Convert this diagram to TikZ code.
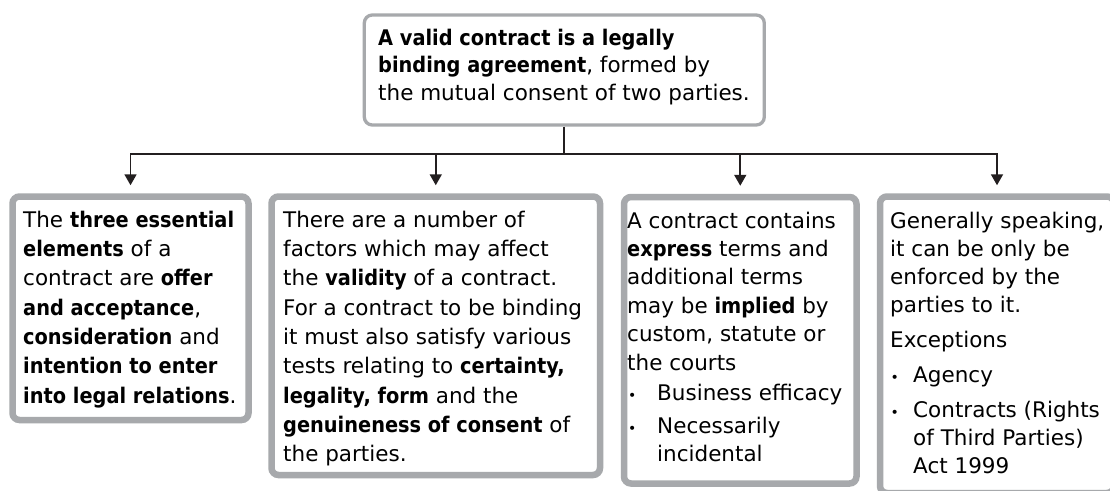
\documentclass[tikz,border=0pt]{standalone}
\usepackage{fontspec}
\setmainfont{DejaVu Sans}[BoldFeatures={FakeStretch=0.9}]
\usetikzlibrary{arrows.meta}
\definecolor{bordergray}{RGB}{167,169,172}
\definecolor{linedark}{RGB}{35,31,32}
\newcommand{\bulA}{\makebox[30pt][l]{\hspace{1pt}{\fontsize{14}{14}\selectfont •}}}
\newcommand{\bulB}{\makebox[23pt][l]{\hspace{0.5pt}{\fontsize{14}{14}\selectfont •}}}
\begin{document}
\begin{tikzpicture}[x=1pt,y=-1pt,
  box/.style={draw=bordergray, line width=6.5pt, rounded corners=7pt, fill=white, inner sep=0pt},
  topbox/.style={draw=bordergray, line width=3.3pt, rounded corners=8pt, fill=white, inner sep=0pt},
  txt/.style={anchor=base west, align=left, inner sep=0pt, text=black},
  bigfont/.style={font=\fontsize{21.5}{29.3}\selectfont},
  conn/.style={draw=linedark, line width=1.8pt},
  arr/.style={conn, -{Triangle[width=12pt,length=11pt]}, shorten >=8pt}]
\fill[white] (0,0) rectangle (1110,490);
\useasboundingbox (0,0) rectangle (1110,490);
% boxes
\node[topbox, minimum width=400pt, minimum height=110pt] (top) at (564.3,70) {};
\node[box, minimum width=236pt, minimum height=223.5pt] (b1) at (130.5,308.25) {};
\node[box, minimum width=328.5pt, minimum height=278.5pt] (b2) at (435.75,335.75) {};
\node[box, minimum width=232.5pt, minimum height=286.5pt] (b3) at (740.25,340.25) {};
\node[box, minimum width=234pt, minimum height=296.5pt] (b4) at (997,344.75) {};
% texts (anchored at the baseline of their last line)
\node[txt, font=\fontsize{21.5}{27.5}\selectfont] (ttop) at (378,100)
 {\textbf{A valid contract is a legally}\\
  \textbf{binding agreement}, formed by\\
  the mutual consent of two parties.};
\node[txt, bigfont] (t1) at (23,403.1)
 {The \textbf{three essential}\\
  \textbf{elements} of a\\
  contract are \textbf{offer}\\
  \textbf{and acceptance},\\
  \textbf{consideration} and\\
  \textbf{intention to enter}\\
  \textbf{into legal relations}.};
\node[txt, bigfont] (t2) at (283,461.7)
 {There are a number of\\
  factors which may affect\\
  the \textbf{validity} of a contract.\\
  For a contract to be binding\\
  it must also satisfy various\\
  tests relating to \textbf{certainty,}\\
  \textbf{legality, form} and the\\
  \textbf{genuineness of consent} of\\
  the parties.};
\node[txt, font=\fontsize{21.5}{28.4}\selectfont] (t3) at (627,461.4)
 {A contract contains\\
  \textbf{express} terms and\\
  additional terms\\
  may be \textbf{implied} by\\
  custom, statute or\\
  the courts\\[1.6pt]
  \bulA Business efficacy\\[4.6pt]
  \bulA Necessarily\\
  \hspace*{30pt}incidental};
\node[txt, font=\fontsize{21.5}{28.3}\selectfont] (t4) at (890,473.6)
 {Generally speaking,\\
  it can be only be\\
  enforced by the\\
  parties to it.\\[5.8pt]
  Exceptions\\[6.7pt]
  \bulB Agency\\[6.7pt]
  \bulB Contracts (Rights\\
  \hspace*{23pt}of Third Parties)\\
  \hspace*{23pt}Act 1999};
% connectors
\coordinate (busM) at (564.3,154);
\draw[conn] (top.south) -- (busM);
\draw[arr] (busM) -- (b1.north |- busM) -- (b1.north);
\draw[arr] (busM) -- (b4.north |- busM) -- (b4.north);
\draw[arr] (b2.north |- busM) -- (b2.north);
\draw[arr] (b3.north |- busM) -- (b3.north);
\end{tikzpicture}
\end{document}
